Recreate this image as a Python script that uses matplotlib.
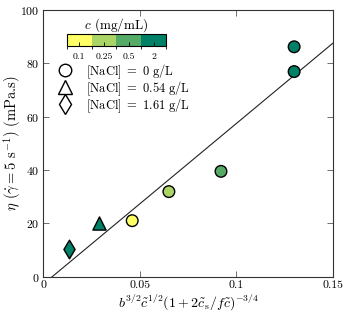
import matplotlib
matplotlib.use('Agg')
import matplotlib.pyplot as plt
from matplotlib import rcParams
from matplotlib.colors import ListedColormap, BoundaryNorm
import matplotlib.cm as cm
from matplotlib.lines import Line2D
import numpy as np

rcParams['font.family'] = 'serif'
rcParams['font.serif'] = ['cmr10']
rcParams['mathtext.fontset'] = 'cm'
rcParams['axes.formatter.use_mathtext'] = True

# concentration classes (mg/mL) and their colours
conc_labels = ['0.1', '0.25', '0.5', '2']
conc_colors = ['#FFFF66', '#AAD466', '#55AA66', '#008066']

# [NaCl] = 0 g/L
x_salt0 = [0.0461, 0.0651, 0.0921, 0.130, 0.130]
y_salt0 = [21.0, 31.9, 39.5, 76.9, 86.2]
c_salt0 = [0, 1, 2, 3, 3]
# [NaCl] = 0.54 g/L
x_salt1 = [0.0287]
y_salt1 = [20.2]
c_salt1 = [3]
# [NaCl] = 1.61 g/L
x_salt2 = [0.0135]
y_salt2 = [10.4]
c_salt2 = [3]

# linear fit
fit_slope = 602.0
fit_intercept = -2.8

fig = plt.figure(figsize=(3.46, 3.16), dpi=100)
ax = fig.add_axes([0.125, 0.1244, 0.8366, 0.844])

xf = np.array([0.0, 0.15])
ax.plot(xf, fit_slope * xf + fit_intercept, color='#222222', lw=0.8, zorder=1)

ax.scatter(x_salt0, y_salt0, c=[conc_colors[i] for i in c_salt0], marker='o',
           s=70, edgecolors='black', linewidths=1.0, zorder=3)
ax.scatter(x_salt1, y_salt1, c=[conc_colors[i] for i in c_salt1], marker='^',
           s=90, edgecolors='black', linewidths=1.0, zorder=3)
ax.scatter(x_salt2, y_salt2, c=[conc_colors[i] for i in c_salt2], marker='d',
           s=90, edgecolors='black', linewidths=1.0, zorder=3)

ax.set_xlim(0, 0.15)
ax.set_ylim(0, 100)
ax.set_xticks([0, 0.05, 0.1, 0.15])
ax.set_xticklabels(['0', '0.05', '0.1', '0.15'])
ax.set_yticks([0, 20, 40, 60, 80, 100])
ax.tick_params(direction='in', top=True, right=True, labelsize=8.5, length=4,
               width=0.6, color='#555555', pad=3)
for sp in ax.spines.values():
    sp.set_linewidth(0.8)
    sp.set_color('#333333')

ax.set_xlabel(r'$b^{3/2}\tilde{c}^{1/2}(1+2\tilde{c}_\mathrm{s}/f\tilde{c})^{-3/4}$',
              fontsize=10, labelpad=1)
ax.set_ylabel(r'$\eta$ ($\dot{\gamma}=5$ s$^{-1}$) (mPa.s)', fontsize=10.5,
              labelpad=-2.5)

# legend for salt concentration
handles = [
    Line2D([], [], marker='o', ls='none', mfc='white', mec='black', ms=9, mew=1.0),
    Line2D([], [], marker='^', ls='none', mfc='white', mec='black', ms=10, mew=1.0),
    Line2D([], [], marker='d', ls='none', mfc='white', mec='black', ms=10, mew=1.0),
]
labels = [r'$[\mathrm{NaCl}]\ =\ 0\ \mathrm{g/L}$',
          r'$[\mathrm{NaCl}]\ =\ 0.54\ \mathrm{g/L}$',
          r'$[\mathrm{NaCl}]\ =\ 1.61\ \mathrm{g/L}$']
ax.legend(handles, labels, loc='upper left', bbox_to_anchor=(0.049, 0.805),
          frameon=False, fontsize=9, handlelength=1.2, handletextpad=1.05,
          labelspacing=-0.12, borderaxespad=0, borderpad=0)

# discrete colour bar for concentration
cax = fig.add_axes([0.1936, 0.856, 0.286, 0.0364])
cmap = ListedColormap(conc_colors)
norm = BoundaryNorm([0, 1, 2, 3, 4], cmap.N)
cb = fig.colorbar(cm.ScalarMappable(norm=norm, cmap=cmap), cax=cax,
                  orientation='horizontal', ticks=[0.5, 1.5, 2.5, 3.5])
cb.set_ticklabels(conc_labels)
cb.outline.set_linewidth(0.8)
cax.tick_params(direction='in', length=3, width=0.6, labelsize=7, pad=5)
cax.set_title(r'$c$ (mg/mL)', fontsize=9.5, pad=3)

fig.savefig('out.png', dpi=100)
